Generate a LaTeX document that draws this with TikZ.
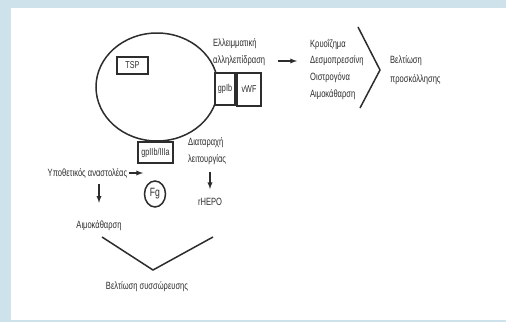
\documentclass[tikz,border=0pt]{standalone}
\usepackage{fontspec}
\usetikzlibrary{shapes.geometric}
\newfontfamily\narrowfont[FakeStretch=0.72]{Liberation Sans}
\definecolor{framebg}{RGB}{205,226,235}
\definecolor{ink}{RGB}{45,45,45}

\begin{document}
\begin{tikzpicture}[x=1pt,y=-1pt]
\tikzstyle{every node}+=[inner sep=0pt, text=ink, font=\narrowfont\fontsize{10.5}{17}\selectfont]
\tikzstyle{part}=[draw=ink, line width=1.5pt, fill=white, font=\narrowfont\fontsize{10}{11}\selectfont]
\tikzstyle{arrow}=[-latex, draw=ink, line width=1.3pt]
\tikzstyle{bracket}=[draw=ink, line width=1.5pt]
\fill[framebg] (0,0) rectangle (506,322);
\fill[white] (11,8) rectangle (506,320);
\node[ellipse, draw=ink, line width=1.5pt, minimum width=122pt, minimum height=108pt] (cell) at (157,87) {};
\node[part, minimum width=31pt, minimum height=17pt] (tsp) at (132.5,65.5) {TSP};
\node[part, minimum width=20pt, minimum height=32pt] (gpib) at (225,89) {gpIb};
\node[part, minimum width=24pt, minimum height=33pt] (vwf) at (249,89.5) {vWF};
\node[part, minimum width=35pt, minimum height=21pt] (gpiib) at (155.5,152.5) {gpIIb/IIIa};
\node[anchor=west] (ellip1) at (213,44) {Ελλειμματική};
\node[anchor=west] (ellip2) at (213,61) {αλληλεπίδραση};
\node[anchor=west] (cryo1) at (310,44) {Κρυοΐζημα};
\node[anchor=west] (cryo2) at (310,61) {Δεσμοπρεσσίνη};
\node[anchor=west] (cryo3) at (310,78) {Οιστρογόνα};
\node[anchor=west] (cryo4) at (310,95) {Αιμοκάθαρση};
\node[anchor=west] (adh1) at (390,61) {Βελτίωση};
\node[anchor=west] (adh2) at (390,80) {προσκόλλησης};
\node[anchor=west] (dysf1) at (188,143) {Διαταραχή};
\node[anchor=west] (dysf2) at (188,160) {λειτουργίας};
\node (hepo) at (210,202) {rHEPO};
\node (hypo) at (87.5,173) {Υποθετικός αναστολέας};
\node[ellipse, draw=ink, line width=1.5pt, minimum width=21pt, minimum height=26pt, font=\narrowfont\fontsize{12}{12}\selectfont] (fg) at (155,194) {Fg};
\node (dial) at (99,226) {Αιμοκάθαρση};
\node (aggr) at (147,287) {Βελτίωση συσσώρευσης};
\coordinate (fgin) at (143,173);
\draw[arrow, shorten <=13pt, shorten >=13pt] (ellip2) -- (cryo2);
\draw[arrow, shorten <=2pt] (hypo) -- (fgin);
\draw[arrow, shorten <=6pt, shorten >=18pt] (hypo.south -| dial.north) -- (dial.north);
\draw[arrow, shorten <=7pt, shorten >=9pt] (dysf2.south -| hepo.north) -- (hepo.north);
\draw[bracket] (358,27) -- (380,70) -- (360,108);
\draw[bracket] (102,237) -- (153,270) -- (213,237);
\end{tikzpicture}
\end{document}
